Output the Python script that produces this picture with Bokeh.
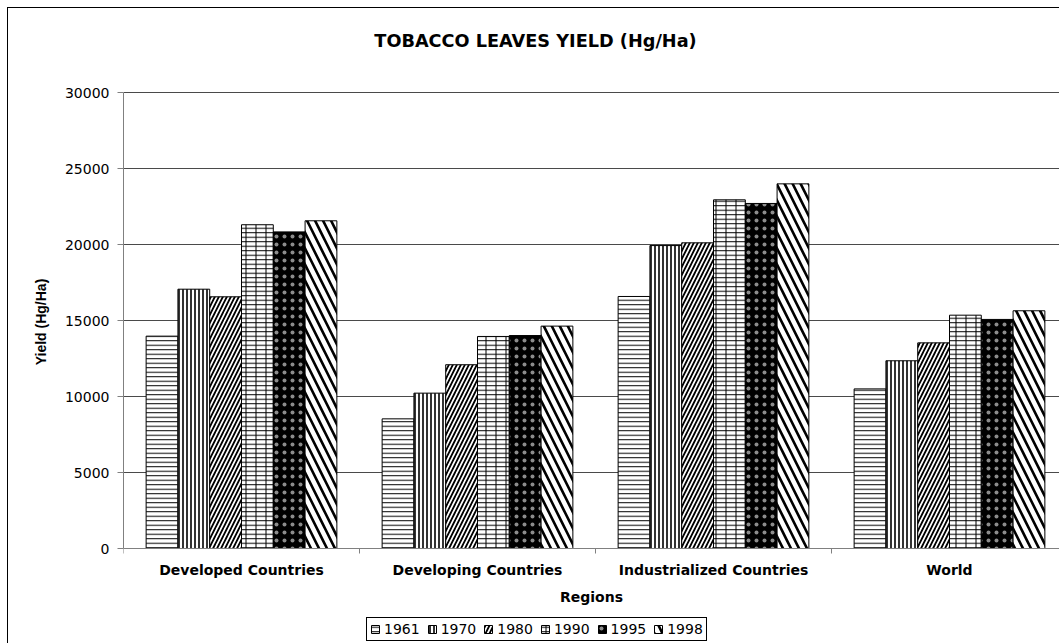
from bokeh.plotting import figure
from bokeh.models import ColumnDataSource, Range1d, FixedTicker, Legend, LegendItem, Label
from bokeh.embed import file_html
from bokeh.resources import INLINE

# Tobacco leaves yield by region (hg/ha)
regions = ["Developed Countries", "Developing Countries", "Industrialized Countries", "World"]
years = ["1961", "1970", "1980", "1990", "1995", "1998"]
yield_1961 = [13970, 8530, 16580, 10500]
yield_1970 = [17060, 10220, 19930, 12350]
yield_1980 = [16560, 12090, 20110, 13530]
yield_1990 = [21300, 13950, 22940, 15350]
yield_1995 = [20830, 14010, 22700, 15070]
yield_1998 = [21560, 14630, 23990, 15640]
series = [yield_1961, yield_1970, yield_1980, yield_1990, yield_1995, yield_1998]
y_ticks = [0, 5000, 10000, 15000, 20000, 25000, 30000]
Y_MAX = 30000

FONT = "DejaVu Sans"
FONT_V = "Liberation Sans"
W, H = 1059, 643
LEFT = 123              # left panel width (px)
AXIS_TOP, AXIS_BOTTOM = 92, 548   # pixel rows of the value axis ends
CAT_PX = 236.0          # pixel width of one region slot
BAR = 0.1347            # bar width as a fraction of a slot

# the plotting frame spans the full canvas height; the value range is
# widened so that 0..Y_MAX lands on AXIS_BOTTOM..AXIS_TOP
per_px = Y_MAX / (AXIS_BOTTOM - AXIS_TOP)
y_lo = -(H - AXIS_BOTTOM) * per_px
y_hi = Y_MAX + AXIS_TOP * per_px
x_lo = 0.5
x_hi = x_lo + (W - LEFT) / CAT_PX

# fill/hatch layers per year (several layers are stacked for the brick look)
layers = [
    [dict(fill_color="white", hatch_pattern="-", hatch_scale=4.5, hatch_weight=1)],
    [dict(fill_color="white", hatch_pattern="|", hatch_scale=4, hatch_weight=1.6)],
    [dict(fill_color="white", hatch_pattern="/", hatch_scale=8, hatch_weight=1.8)],
    [dict(fill_color="white", hatch_pattern="-", hatch_scale=4.5, hatch_weight=1),
     dict(fill_color=None, hatch_pattern="|", hatch_scale=10, hatch_weight=1)],
    [dict(fill_color="black", hatch_pattern=".", hatch_scale=8, hatch_weight=1,
          hatch_color="#8c8c8c")],
    [dict(fill_color="white", hatch_pattern="\\", hatch_scale=16, hatch_weight=2.6)],
]

p = figure(frame_width=W - LEFT, frame_height=H,
           output_backend="svg", toolbar_location=None,
           x_range=Range1d(x_lo, x_hi), y_range=Range1d(y_lo, y_hi),
           min_border_left=LEFT, min_border_right=0, min_border_top=0, min_border_bottom=0,
           background_fill_color=None, border_fill_color=None)
p.outline_line_color = None
# chart-area frame (top and left edges)
p.styles = {"box-shadow": "inset 7px 7px 0 0 white, inset 8px 8px 0 0 black"}

centers = [i + 1 for i in range(len(regions))]
items = []
for j, (yr, vals) in enumerate(zip(years, series)):
    xs = [c + (j - 2.5) * BAR for c in centers]
    src = ColumnDataSource(dict(x=xs, top=vals))
    rs = []
    for k, st in enumerate(layers[j]):
        st = dict(st)
        st.setdefault("hatch_color", "black")
        rs.append(p.vbar(x="x", top="top", width=BAR, bottom=0, source=src,
                         line_color="black" if k == len(layers[j]) - 1 else None,
                         line_width=1, **st))
    items.append(LegendItem(label=yr, renderers=rs))

# x axis sits on the zero line: region names centred, tick marks between regions
p.xaxis.fixed_location = 0
p.xaxis.ticker = FixedTicker(ticks=centers, minor_ticks=[c + 0.5 for c in range(0, 5)])
p.xaxis.major_label_overrides = {c: name for c, name in zip(centers, regions)}
p.xaxis.major_tick_out = 0
p.xaxis.major_tick_in = 0
p.xaxis.minor_tick_out = 5
p.xaxis.minor_tick_in = 0
p.xaxis.minor_tick_line_color = "#808080"
p.xaxis.axis_line_color = "#808080"
p.xaxis.major_label_text_font = FONT
p.xaxis.major_label_text_font_style = "bold"
p.xaxis.major_label_text_font_size = "14px"
p.xaxis.major_label_text_color = "black"
p.xaxis.major_label_standoff = 8
p.xaxis.axis_label = "Regions"
p.xaxis.axis_label_text_font = FONT
p.xaxis.axis_label_text_font_style = "bold"
p.xaxis.axis_label_text_font_size = "14px"
p.xaxis.axis_label_text_color = "black"
p.xaxis.axis_label_standoff = 8

p.yaxis.ticker = FixedTicker(ticks=y_ticks)
p.yaxis.bounds = (0, Y_MAX)
p.yaxis.minor_tick_line_color = None
p.yaxis.major_tick_out = 6
p.yaxis.major_tick_in = 0
p.yaxis.major_tick_line_color = "#808080"
p.yaxis.axis_line_color = "#808080"
p.yaxis.major_label_text_font = FONT
p.yaxis.major_label_text_font_size = "14px"
p.yaxis.major_label_text_color = "black"
p.yaxis.major_label_standoff = 8
p.yaxis.axis_label = "Yield (Hg/Ha)"
p.yaxis.axis_label_text_font = FONT_V
p.yaxis.axis_label_text_font_style = "bold"
p.yaxis.axis_label_text_font_size = "14px"
p.yaxis.axis_label_text_color = "black"
p.yaxis.axis_label_standoff = 13

p.xgrid.grid_line_color = None
p.ygrid.ticker = FixedTicker(ticks=y_ticks[1:])
p.ygrid.grid_line_color = "#4a4a4a"
p.ygrid.grid_line_width = 1

legend = Legend(items=items, orientation="horizontal", location=(243, 2),
                label_text_font=FONT, label_text_font_size="14px", label_text_color="black",
                glyph_width=10, glyph_height=10, label_standoff=4, spacing=7,
                padding=3, margin=0, border_line_color="black", border_line_width=1,
                border_line_alpha=1, label_height=14, background_fill_color="white")
p.add_layout(legend, "center")

# chart title, centred over the chart area
title_x = x_lo + (535 - LEFT) / CAT_PX
title_y = Y_MAX + (AXIS_TOP - 40) * per_px
p.add_layout(Label(x=title_x, y=title_y, text="TOBACCO LEAVES YIELD (Hg/Ha)",
                   text_font=FONT, text_font_style="bold", text_font_size="17.7px",
                   text_color="black", text_align="center", text_baseline="middle"))

open("out.html", "w").write(file_html(p, INLINE))
